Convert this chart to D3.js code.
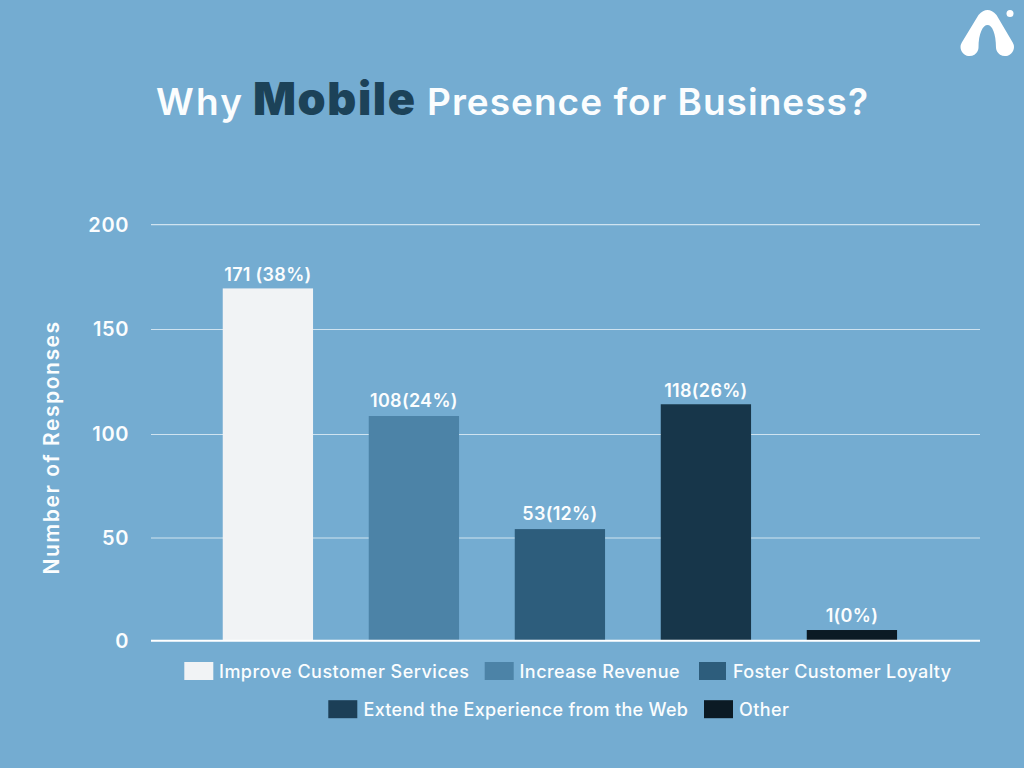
<!DOCTYPE html>
<html><head><meta charset="utf-8">
<script src="https://cdn.jsdelivr.net/npm/d3@7"></script>
<style>html,body{margin:0;padding:0;background:#74acd1}svg{display:block}text{font-family:Inter,"Open Sans",sans-serif}</style>
</head><body><svg id="c" width="1024" height="768"></svg>
<script>
const categories=["Improve Customer Services","Increase Revenue","Foster Customer Loyalty","Extend the Experience from the Web","Other"];
const barHeights=[169.6,108.8,54.3,114.4,5.2];
const barLabels=["171 (38%)","108(24%)","53(12%)","118(26%)","1(0%)"];
const barColors=["#f1f3f5","#4c83a7","#2d5d7c","#17364a","#0b1a24"];
const legendColors=["#f1f3f5","#4c83a7","#2d5d7c","#1c3f57","#0b1a24"];
const yTicks=[0,50,100,150,200];
const svg=d3.select("#c");
const y=d3.scaleLinear().domain(yTicks).range([640.7,538,434.5,329.5,224.7]);
const x=d3.scaleBand().domain(categories).range([195,924.8]).paddingInner(0.3815).paddingOuter(0.19);
const white="#fbfdfe";
// title
[["Why",156,86,37,600,white],["Mobile",253,162,45,900,"#1c4258"],["Presence for Business?",427,441,37,600,white]].forEach(([t,px,w,fs,fw,c])=>{
  svg.append("text").attr("x",px).attr("y",115).attr("textLength",w).attr("lengthAdjust","spacing")
    .attr("font-size",fs).attr("font-weight",fw).attr("fill",c).text(t);
});
// logo
const logo=svg.append("g").attr("fill","#fff");
logo.append("path").attr("d","M978.500 15 Q987.500 5 996.500 15 L1012.700 42.500 A9 9 0 1 1 996 48 C996 33 992 25 987.500 25 C983 25 978.500 33 978.500 48 A9 9 0 1 1 961.800 42.500 Z");
logo.append("circle").attr("cx",1010).attr("cy",13.500).attr("r",3.500);
// grid
svg.append("g").selectAll("line").data(yTicks.filter(d=>d>0)).join("line")
  .attr("x1",151).attr("x2",980).attr("y1",d=>y(d)).attr("y2",d=>y(d))
  .attr("stroke","#cfe3f0").attr("stroke-width",1.2);
svg.append("g").selectAll("text").data(yTicks).join("text")
  .attr("x",129).attr("y",d=>y(d)+6.800).attr("text-anchor","end")
  .attr("font-size",20).attr("font-weight",600).attr("letter-spacing",0.6).attr("fill",white).text(d=>d);
svg.append("text").attr("transform","translate(59,447.500) rotate(-90)").attr("text-anchor","middle")
  .attr("font-size",21).attr("font-weight",600).attr("letter-spacing",1.55).attr("fill",white).text("Number of Responses");
// bars
svg.append("g").selectAll("rect").data(categories).join("rect")
  .attr("x",d=>x(d)).attr("width",x.bandwidth())
  .attr("y",(d,i)=>y(barHeights[i])).attr("height",(d,i)=>y(0)-y(barHeights[i]))
  .attr("fill",(d,i)=>barColors[i]);
const labelLift=[7.5,9.5,9.5,7.5,8.5];
svg.append("g").selectAll("text").data(categories).join("text")
  .attr("x",d=>x(d)+x.bandwidth()/2).attr("y",(d,i)=>y(barHeights[i])-labelLift[i])
  .attr("text-anchor","middle").attr("font-size",18).attr("font-weight",600).attr("letter-spacing",0.3).attr("fill",white)
  .text((d,i)=>barLabels[i]);
svg.append("line").attr("x1",151).attr("x2",980).attr("y1",y(0)).attr("y2",y(0)).attr("stroke","#fff").attr("stroke-width",2);
// legend layout: [category index, swatch x, swatch width, text x, text width]
const legendRows=[[[0,184.3,29,219,250],[1,484.7,29,519.5,160],[2,699,27,733,218]],[[3,328.3,29,363.5,324.5],[4,704,29,739,50]]];
const rowY=[671,709.2];
legendRows.forEach((row,r)=>row.forEach(([i,sx,sw,tx,tw])=>{
  svg.append("rect").attr("x",sx).attr("y",rowY[r]-9).attr("width",sw).attr("height",18).attr("fill",legendColors[i]);
  svg.append("text").attr("x",tx).attr("y",rowY[r]+6.7).attr("textLength",tw).attr("lengthAdjust","spacing")
    .attr("font-size",18).attr("font-weight",500).attr("fill",white).text(categories[i]);
}));
</script></body></html>
